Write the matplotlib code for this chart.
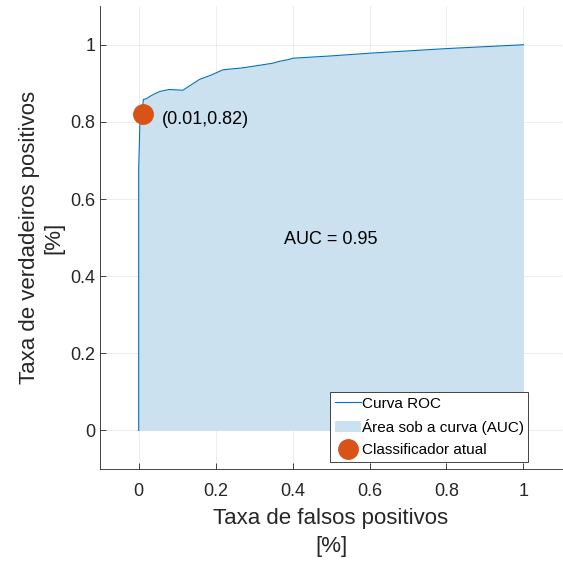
import matplotlib
matplotlib.use('Agg')
import matplotlib.pyplot as plt

plt.rcParams.update({
    'font.family': ['Liberation Sans', 'DejaVu Sans'], 'font.size': 13,
    'xtick.direction': 'in', 'ytick.direction': 'in',
})

# curva ROC
fpr = [0.0, 0.0, 0.003, 0.005, 0.01, 0.012, 0.02, 0.029, 0.04, 0.055, 0.08, 0.115,
       0.124, 0.158, 0.19, 0.219, 0.27, 0.348, 0.366, 0.392, 0.40, 0.5, 0.6, 0.7, 0.8, 0.9, 1.0]
tpr = [0.0, 0.68, 0.79, 0.82, 0.83, 0.858, 0.86, 0.866, 0.872, 0.879, 0.884, 0.882,
       0.888, 0.91, 0.922, 0.935, 0.94, 0.952, 0.957, 0.962, 0.965, 0.971, 0.978, 0.984, 0.99, 0.995, 1.0]
ponto = (0.01, 0.82)
auc = 0.95

line_color = '#0072BD'
fill_color = '#CBE1F0'
dot_color = '#D95319'

fig = plt.figure(figsize=(5.63, 5.61), dpi=100)
ax = fig.add_axes([0.178, 0.164, 0.82, 0.825])

ax.fill_between(fpr, tpr, 0, color=fill_color, linewidth=0, label='Área sob a curva (AUC)')
ax.plot(fpr, tpr, color=line_color, linewidth=0.8, label='Curva ROC')
ax.plot(ponto[0], ponto[1], 'o', color=dot_color, markersize=14, label='Classificador atual')

ax.text(ponto[0] + 0.05, ponto[1] - 0.015, '(%.2f,%.2f)' % ponto, fontsize=13, va='center')
ax.text(0.5, 0.495, 'AUC = %.2f' % auc, fontsize=13, ha='center', va='center')

ax.set_xlim(-0.1, 1.1)
ax.set_ylim(-0.1, 1.1)
ax.set_xticks([0, 0.2, 0.4, 0.6, 0.8, 1])
ax.set_xticklabels(['0', '0.2', '0.4', '0.6', '0.8', '1'])
ax.set_yticks([0, 0.2, 0.4, 0.6, 0.8, 1])
ax.set_yticklabels(['0', '0.2', '0.4', '0.6', '0.8', '1'])
ax.tick_params(colors='#262626', length=4, width=0.6, labelsize=13)
ax.tick_params(axis='x', pad=10)
ax.set_xlabel('Taxa de falsos positivos\n[%]', fontsize=16, color='#262626', labelpad=6,
              linespacing=1.4)
ax.set_ylabel('Taxa de verdadeiros positivos\n[%]', fontsize=16, color='#262626')

for s in ['top', 'right']:
    ax.spines[s].set_visible(False)
for s in ['left', 'bottom']:
    ax.spines[s].set_color('#262626')
    ax.spines[s].set_linewidth(0.6)

ax.grid(True, color='#DDDDDD', linewidth=0.6, alpha=0.6)
ax.set_axisbelow(True)

h, l = ax.get_legend_handles_labels()
order = [1, 0, 2]
leg = ax.legend([h[i] for i in order], [l[i] for i in order], loc='lower right',
                bbox_to_anchor=(0.927, 0.015), fontsize=11, fancybox=False, framealpha=1,
                edgecolor='#262626', borderpad=0.3, labelspacing=0.55, handlelength=1.7,
                handletextpad=0.05, borderaxespad=0)
leg.get_frame().set_linewidth(0.6)

plt.savefig('out.png', dpi=100)
plt.close()
